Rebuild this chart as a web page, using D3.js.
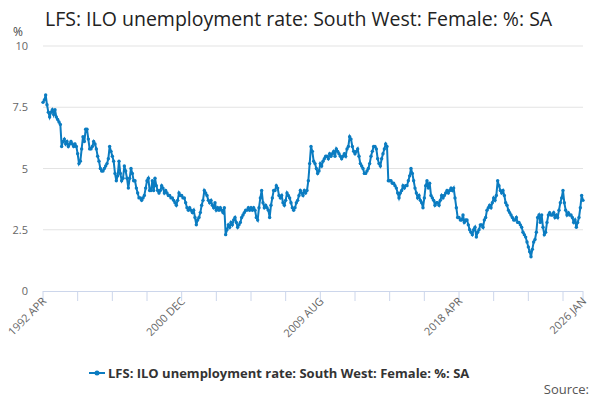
<!DOCTYPE html>
<html><head><meta charset="utf-8">
<script src="https://cdn.jsdelivr.net/npm/d3@7"></script>
<style>body{margin:0;font-family:"Open Sans",sans-serif}</style>
</head><body><svg id="c" width="600" height="400"></svg>
<script>
const startYear = 1992, startMonth = 3; // APR
const values = [
7.7,7.8,8.0,7.6,7.3,7.1,7.3,7.4,7.2,
7.4,7.1,7.0,6.9,6.8,5.9,6.1,6.2,6.0,6.1,5.9,6.0,
6.1,6.0,5.9,6.0,5.9,5.6,5.2,5.3,5.8,6.3,6.1,6.6,
6.6,6.2,5.8,5.8,5.9,6.1,6.0,5.8,5.5,5.3,5.0,4.9,
4.9,5.0,5.1,5.2,5.4,5.9,5.7,5.5,5.3,4.8,4.5,4.7,
5.3,4.8,4.5,4.6,5.1,4.9,4.6,4.2,4.6,5.0,4.8,4.5,
4.5,4.2,4.0,3.8,3.8,3.7,3.8,3.9,4.2,4.5,4.6,4.1,
4.1,4.5,4.1,4.6,4.3,4.1,4.0,4.1,4.3,4.2,4.0,4.1,
4.0,3.9,3.9,3.8,3.8,3.7,3.6,3.5,3.7,4.0,3.9,3.9,
3.8,3.8,3.6,3.4,3.3,3.4,3.3,3.2,3.3,3.0,2.7,2.9,
3.0,3.2,3.5,3.7,4.1,4.0,3.9,3.7,3.6,3.7,3.5,3.4,
3.6,3.3,3.4,3.3,3.4,3.3,3.2,3.4,2.3,2.5,2.7,2.6,
2.8,2.7,2.9,3.0,2.8,2.6,2.7,2.8,3.0,3.1,3.2,3.3,
3.3,3.4,3.3,3.4,3.3,3.4,3.3,3.0,2.9,3.4,3.8,4.1,
3.6,3.4,3.5,3.4,3.3,3.0,3.5,3.8,4.1,4.1,4.3,4.2,
3.9,3.8,3.9,3.6,3.5,3.7,4.0,3.9,3.8,3.6,3.4,3.3,
3.4,3.6,3.7,3.9,4.1,4.0,3.9,4.1,4.0,4.1,4.5,5.2,
5.9,5.7,5.3,5.2,5.0,4.8,4.9,5.2,5.1,5.3,5.4,5.5,
5.5,5.4,5.6,5.5,5.6,5.7,5.5,5.8,5.7,5.6,5.5,5.4,
5.5,5.6,5.5,5.8,5.9,6.3,6.2,5.9,5.7,5.6,5.7,5.8,
5.5,5.2,5.1,5.0,4.8,4.8,4.9,5.0,5.2,5.5,5.7,5.9,
5.9,5.8,5.4,5.2,5.1,5.4,5.6,5.8,6.0,5.9,4.5,4.5,
4.5,4.4,4.4,4.3,4.2,4.0,3.8,4.0,4.1,4.3,4.2,4.3,
4.3,4.5,4.7,5.0,4.8,4.5,4.2,4.0,3.8,3.9,3.7,3.6,
3.4,3.8,4.3,4.5,4.2,4.4,3.9,3.8,3.7,3.5,3.6,3.6,
3.5,3.7,3.9,3.8,3.9,4.0,4.1,4.0,4.1,4.2,4.1,4.2,
3.8,3.4,3.0,3.0,2.9,2.9,3.1,2.8,2.9,2.9,2.7,2.5,
2.4,2.3,2.5,2.6,2.2,2.4,2.5,2.7,2.7,2.6,2.9,3.0,
3.3,3.4,3.5,3.4,3.6,3.8,3.7,3.9,4.5,4.3,4.1,4.0,
4.1,3.9,3.6,3.5,3.3,3.2,3.1,3.0,2.9,2.9,3.0,2.8,
2.8,2.7,2.6,2.4,2.3,2.2,2.0,1.8,1.6,1.4,1.7,2.0,
2.1,2.4,3.0,3.1,2.8,3.1,2.6,2.3,2.4,2.8,3.1,3.2,
3.1,3.1,3.2,3.0,3.1,3.0,3.3,3.6,3.8,4.1,3.6,3.3,
3.1,3.2,3.1,3.1,3.0,2.8,2.9,2.6,2.8,3.0,3.4,3.9,
3.7
];
const yTicks = [0, 2.5, 5, 7.5, 10];
const labelTicks = ["1992 APR", "2000 DEC", "2009 AUG", "2018 APR", "2026 JAN"];
const seriesName = "LFS: ILO unemployment rate: South West: Female: %: SA";
const monthNames = ["JAN","FEB","MAR","APR","MAY","JUN","JUL","AUG","SEP","OCT","NOV","DEC"];

const data = values.map((v, i) => ({i, v}));
const svg = d3.select("#c");
const col = "#0b7cc1";
const x = d3.scaleLinear().domain([0, values.length - 1]).range([43, 583]);
const y = d3.scaleLinear().domain([0, 10]).range([291, 46]);

svg.append("text").attr("x", 45).attr("y", 26).attr("font-size", 19.5).attr("fill", "#222").text(seriesName);
svg.append("text").attr("x", 13).attr("y", 36).attr("font-size", 12).attr("fill", "#444").text("%");

svg.append("g").selectAll("line").data(yTicks.filter(d => d > 0)).join("line")
  .attr("x1", 43).attr("x2", 583).attr("y1", y).attr("y2", y).attr("stroke", "#e3e3e3");
svg.append("g").selectAll("text").data(yTicks).join("text")
  .attr("x", 28).attr("y", d => y(d) + 4).attr("text-anchor", "end")
  .attr("font-size", 11).attr("fill", "#666").text(d => d);

// x axis: ticks every 26 months, plus the last month
const tickIdx = d3.range(0, values.length, 26).concat([values.length - 1]);
svg.append("line").attr("x1", 43).attr("x2", 583).attr("y1", 291.5).attr("y2", 291.5).attr("stroke", "#ccd6eb");
svg.append("g").selectAll("line").data(tickIdx).join("line")
  .attr("x1", d => x(d)).attr("x2", d => x(d)).attr("y1", 291).attr("y2", 301).attr("stroke", "#ccd6eb");
const lab = i => { const m = startMonth + i; return (startYear + Math.floor(m / 12)) + " " + monthNames[m % 12]; };
svg.append("g").selectAll("text").data(tickIdx.filter(d => labelTicks.includes(lab(d)))).join("text")
  .attr("transform", d => `translate(${x(d) + 4},${302}) rotate(-45)`)
  .attr("text-anchor", "end").attr("font-size", 11).attr("fill", "#666").text(lab);

svg.append("path").datum(data)
  .attr("d", d3.line().x(d => x(d.i)).y(d => y(d.v)))
  .attr("fill", "none").attr("stroke", col).attr("stroke-width", 2);
svg.append("g").selectAll("circle").data(data).join("circle")
  .attr("cx", d => x(d.i)).attr("cy", d => y(d.v)).attr("r", 1.7).attr("fill", col);

const lg = svg.append("g").attr("transform", "translate(89,373)");
lg.append("line").attr("x1", 0).attr("x2", 16).attr("y1", 0).attr("y2", 0).attr("stroke", col).attr("stroke-width", 2);
lg.append("circle").attr("cx", 8).attr("cy", 0).attr("r", 2.5).attr("fill", col);
lg.append("text").attr("x", 19).attr("y", 4.5).attr("font-size", 13).attr("font-weight", "bold").attr("fill", "#333").text(seriesName);
svg.append("text").attr("x", 589).attr("y", 394).attr("text-anchor", "end").attr("font-size", 13).attr("fill", "#555").text("Source:");
</script></body></html>
